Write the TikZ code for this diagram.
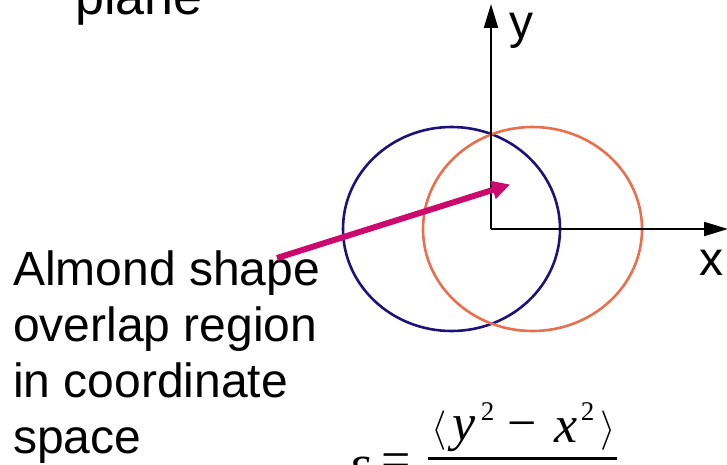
\documentclass[tikz,border=0pt]{standalone}
\usepackage{fontspec}
\setmainfont{Liberation Sans}
\newfontfamily\tms{Liberation Serif}
\usetikzlibrary{arrows.meta}
\definecolor{navyc}{HTML}{1C1378}
\definecolor{orangec}{HTML}{E8704F}
\definecolor{magc}{HTML}{CC0A6E}
\tikzset{
  lbl/.style={inner sep=0pt, anchor=base west, font=\fontsize{48}{56}\selectfont},
  axis/.style={line width=2pt, -{Triangle[length=24pt,width=14pt]}},
  ring/.style={line width=2.6pt},
  pointer/.style={line width=6pt, draw=magc, -{Triangle[length=18pt,width=18pt]}},
  mth/.style={inner sep=0pt, anchor=base, font=\tms\fontsize{52}{52}\selectfont},
  supnum/.style={inner sep=0pt, anchor=base, font=\tms\fontsize{27}{27}\selectfont},
  brk/.style={inner sep=0pt, anchor=base, font=\fontsize{20}{20}\selectfont}
}
\begin{document}
\begin{tikzpicture}[x=1pt,y=-1pt]
\useasboundingbox (0,0) rectangle (727,465);
\clip (0,0) rectangle (727,465);
% title fragment
\node[lbl, font=\fontsize{52}{56}\selectfont] (plane) at (75,15) {plane};
% circles
\draw[ring, navyc] (451.5,229) ellipse [x radius=108.5, y radius=102];
\draw[ring, orangec] (532.5,229) ellipse [x radius=109.5, y radius=102];
% axes
\coordinate (o) at (491,229);
\coordinate (ytip) at (491,4);
\coordinate (xtip) at (728,229);
\draw[axis] (o) -- (ytip);
\draw[axis] (o) -- (xtip);
\node[lbl] (ylab) at (509,39) {y};
\node[lbl] (xlab) at (699,275) {x};
% caption
\node[lbl] (l1) at (13,285) {Almond shape};
\node[lbl] (l2) at (13,341) {overlap region};
\node[lbl] (l3) at (13,397) {in coordinate};
\node[lbl] (l4) at (13,453) {space};
% pointer
\coordinate (ps) at (277,258);
\coordinate (pe) at (510,184.5);
\draw[pointer] (ps) -- (pe);
% formula
\node[brk] (lb) at (439.5,440) {\scalebox{1.9}{$\langle$}};
\node[mth] (ny) at (464,440) {\itshape y};
\node[supnum] (ny2) at (487.5,420) {2};
\node[mth] (nm) at (522.5,440) {−};
\node[mth] (nx) at (566.5,442) {\itshape x};
\node[supnum] (nx2) at (587.5,420) {2};
\node[brk] (rb) at (608.5,440) {\scalebox{1.9}{$\rangle$}};
\coordinate (fb1) at (428,458.5);
\coordinate (fb2) at (617,458.5);
\draw[line width=3pt] (fb1) -- (fb2);
\node[mth] (eps) at (360,481) {\itshape ε};
\node[mth] (eq) at (396.5,477) {=};
\end{tikzpicture}
\end{document}
